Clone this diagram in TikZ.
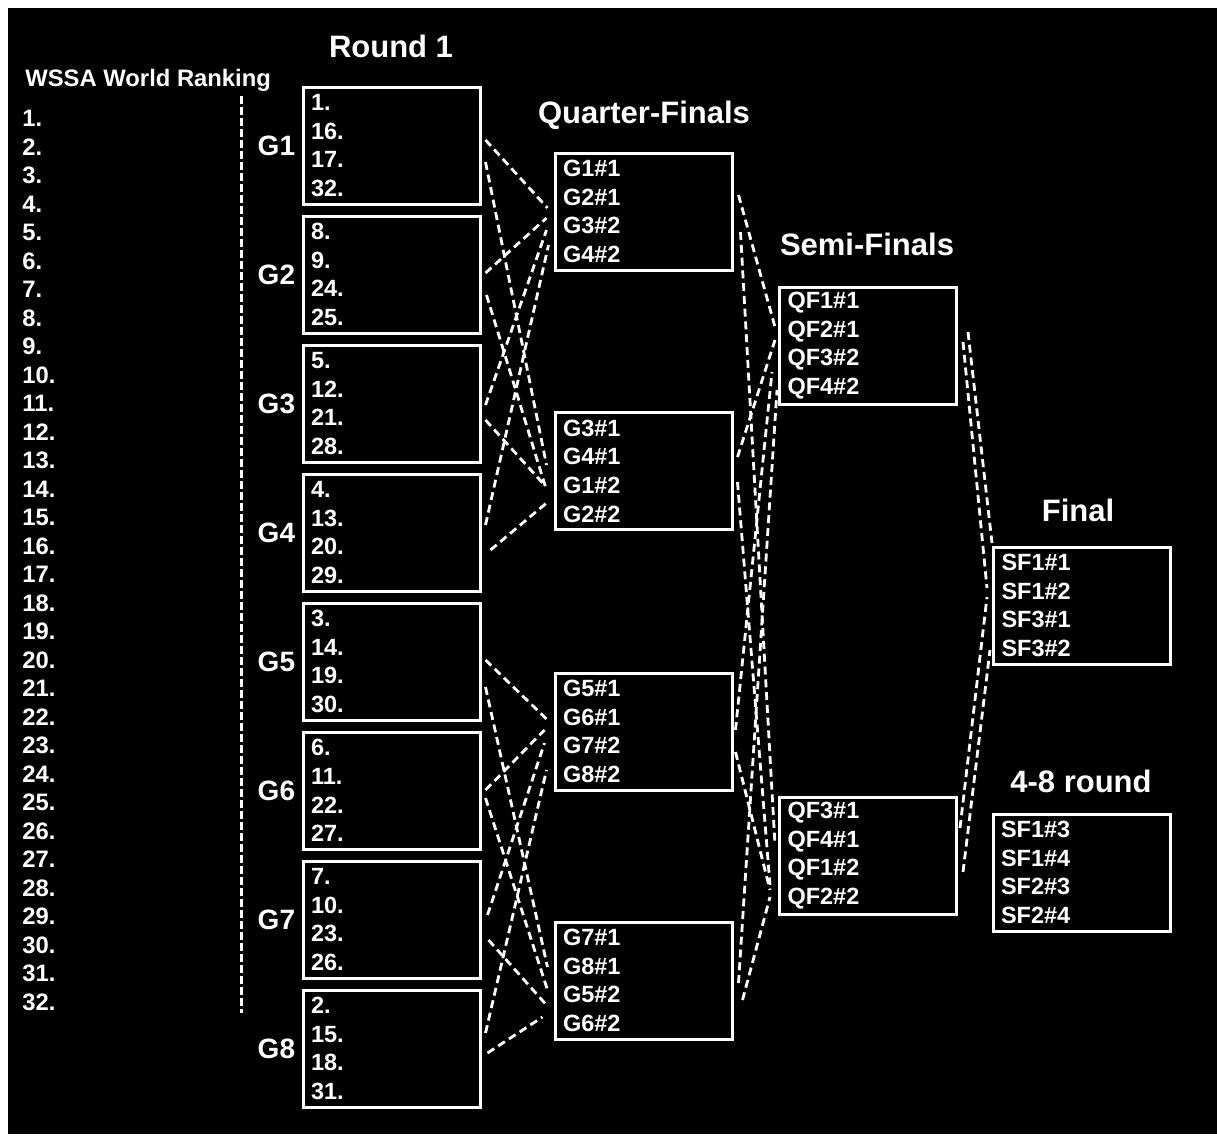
\documentclass[tikz,border=0pt]{standalone}
\usepackage{fontspec}
\setmainfont{Liberation Sans}
\usetikzlibrary{positioning,calc}

\begin{document}
\begin{tikzpicture}[
    x=0.5pt, y=-0.5pt,
    font=\bfseries,
    slotbox/.style={
        draw=white,
        line width=1.5pt,
        minimum width=88.5pt,
        minimum height=58.5pt,
        text width=80.5pt,
        inner xsep=4pt,
        inner ysep=0pt,
        align=left,
        text=white,
        font=\bfseries\fontsize{11.75}{14.3}\selectfont
    },
    ranktext/.style={
        text=white,
        inner sep=0pt,
        anchor=base west,
        font=\bfseries\fontsize{11.9}{14}\selectfont
    },
    roundtitle/.style={
        text=white,
        inner sep=0pt,
        anchor=base,
        font=\bfseries\fontsize{15.5}{18}\selectfont
    },
    grouplabel/.style={
        text=white,
        inner sep=0pt,
        font=\bfseries\fontsize{14}{16}\selectfont
    },
    link/.style={draw=white, line width=1.4pt, dash pattern=on 4pt off 2.4pt},
    node distance=4.5pt and 3pt
]
\useasboundingbox (0,0) rectangle (1217,1137);
\fill[white] (0,0) rectangle (1217,1137);
\fill[black] (8,8) rectangle (1217,1134);

% ranking column
\node[ranktext] (ranking) at (25,86.5) {WSSA World Ranking};
\foreach \i in {1,...,32}
    \node[ranktext] (rank\i) at (22,{126.5+28.5*(\i-1)}) {\i.};
\draw[link, line width=1.5pt, dash pattern=on 4pt off 1.5pt] (241,96) -- (241,1013);

% round 1
\node[roundtitle] (titleround) at (391,57) {Round 1};
\node[slotbox] (g1) at (391.5,145.5) {1.\\16.\\17.\\32.};
\node[slotbox, below=of g1] (g2) {8.\\9.\\24.\\25.};
\node[slotbox, below=of g2] (g3) {5.\\12.\\21.\\28.};
\node[slotbox, below=of g3] (g4) {4.\\13.\\20.\\29.};
\node[slotbox, below=of g4] (g5) {3.\\14.\\19.\\30.};
\node[slotbox, below=of g5] (g6) {6.\\11.\\22.\\27.};
\node[slotbox, below=of g6] (g7) {7.\\10.\\23.\\26.};
\node[slotbox, below=of g7] (g8) {2.\\15.\\18.\\31.};
\node[grouplabel, left=of g1] (lab1) {G1};
\node[grouplabel, left=of g2] (lab2) {G2};
\node[grouplabel, left=of g3] (lab3) {G3};
\node[grouplabel, left=of g4] (lab4) {G4};
\node[grouplabel, left=of g5] (lab5) {G5};
\node[grouplabel, left=of g6] (lab6) {G6};
\node[grouplabel, left=of g7] (lab7) {G7};
\node[grouplabel, left=of g8] (lab8) {G8};

% quarter-finals
\node[roundtitle] (titlequarter) at (644,123) {Quarter-Finals};
\node[slotbox] (qf1) at (643.5,211.5) {G1\#1\\G2\#1\\G3\#2\\G4\#2};
\node[slotbox] (qf2) at (643.5,471) {G3\#1\\G4\#1\\G1\#2\\G2\#2};
\node[slotbox] (qf3) at (643.5,731.5) {G5\#1\\G6\#1\\G7\#2\\G8\#2};
\node[slotbox] (qf4) at (643.5,980.5) {G7\#1\\G8\#1\\G5\#2\\G6\#2};

% semi-finals
\node[roundtitle] (titlesemi) at (867,255) {Semi-Finals};
\node[slotbox] (sf1) at (868,345.5) {QF1\#1\\QF2\#1\\QF3\#2\\QF4\#2};
\node[slotbox] (sf2) at (868,855.5) {QF3\#1\\QF4\#1\\QF1\#2\\QF2\#2};

% final and 4-8 round
\node[roundtitle] (titlefinal) at (1078,521) {Final};
\node[slotbox] (final) at (1082,605.5) {SF1\#1\\SF1\#2\\SF3\#1\\SF3\#2};
\node[roundtitle] (titleplaces) at (1081,792) {4-8 round};
\node[slotbox] (places) at (1081.5,872.5) {SF1\#3\\SF1\#4\\SF2\#3\\SF2\#4};

% round 1 -> quarter-finals
\draw[link] ($(g1.east)+(4,-5.5)$) -- ($(qf1.west)+(-6,-3.5)$);
\draw[link] ($(g1.east)+(4,16.5)$) -- ($(qf2.west)+(-7,-6)$);
\draw[link] ($(g2.east)+(4,-1.5)$) -- ($(qf1.west)+(-7,6.5)$);
\draw[link] ($(g2.east)+(5,20.5)$) -- ($(qf2.west)+(-8,16)$);
\draw[link] ($(g3.east)+(4,1.5)$) -- ($(qf1.west)+(-7,18.5)$);
\draw[link] ($(g3.east)+(4,16.5)$) -- ($(qf2.west)+(-9,14)$);
\draw[link] ($(g4.east)+(4,-7.5)$) -- ($(qf1.west)+(-5,33.5)$);
\draw[link] ($(g4.east)+(9,17.5)$) -- ($(qf2.west)+(-7,32)$);
\draw[link] ($(g5.east)+(4,-1.5)$) -- ($(qf3.west)+(-6,-11.5)$);
\draw[link] ($(g5.east)+(4,25.5)$) -- ($(qf4.west)+(-6,-13.5)$);
\draw[link] ($(g6.east)+(4,-0.5)$) -- ($(qf3.west)+(-9,-1.5)$);
\draw[link] ($(g6.east)+(4,7.5)$) -- ($(qf4.west)+(-6,9.5)$);
\draw[link] ($(g7.east)+(6,-4.5)$) -- ($(qf3.west)+(-9,11.5)$);
\draw[link] ($(g7.east)+(7,20.5)$) -- ($(qf4.west)+(-7,24.5)$);
\draw[link] ($(g8.east)+(4,-15.5)$) -- ($(qf3.west)+(-7,38.5)$);
\draw[link] ($(g8.east)+(6,4.5)$) -- ($(qf4.west)+(-11,36.5)$);

% quarter-finals -> semi-finals
\draw[link] ($(qf1.east)+(5,-16.5)$) -- ($(sf1.west)+(-3,-18.5)$);
\draw[link] ($(qf1.east)+(7,20.5)$) -- ($(sf2.west)+(-3,-10.5)$);
\draw[link] ($(qf2.east)+(4,-14)$) -- ($(sf1.west)+(-3,-5.5)$);
\draw[link] ($(qf2.east)+(4,11)$) -- ($(sf2.west)+(-8,29.5)$);
\draw[link] ($(qf3.east)+(2,-1.5)$) -- ($(sf1.west)+(-6,26.5)$);
\draw[link] ($(qf3.east)+(2,20.5)$) -- ($(sf2.west)+(-8,34.5)$);
\draw[link] ($(qf4.east)+(5,2.5)$) -- ($(sf1.west)+(-1,44.5)$);
\draw[link] ($(qf4.east)+(9,19.5)$) -- ($(sf2.west)+(-8,41.5)$);

% semi-finals -> final
\draw[link] ($(sf1.east)+(10,-13.5)$) -- ($(final.west)+(0,-62.5)$);
\draw[link] ($(sf1.east)+(5,-3.5)$) -- ($(final.west)+(-5,-17.5)$);
\draw[link] ($(sf2.east)+(2,-27.5)$) -- ($(final.west)+(-5,-8.5)$);
\draw[link] ($(sf2.east)+(5,16.5)$) -- ($(final.west)+(-2,44.5)$);
\end{tikzpicture}
\end{document}
